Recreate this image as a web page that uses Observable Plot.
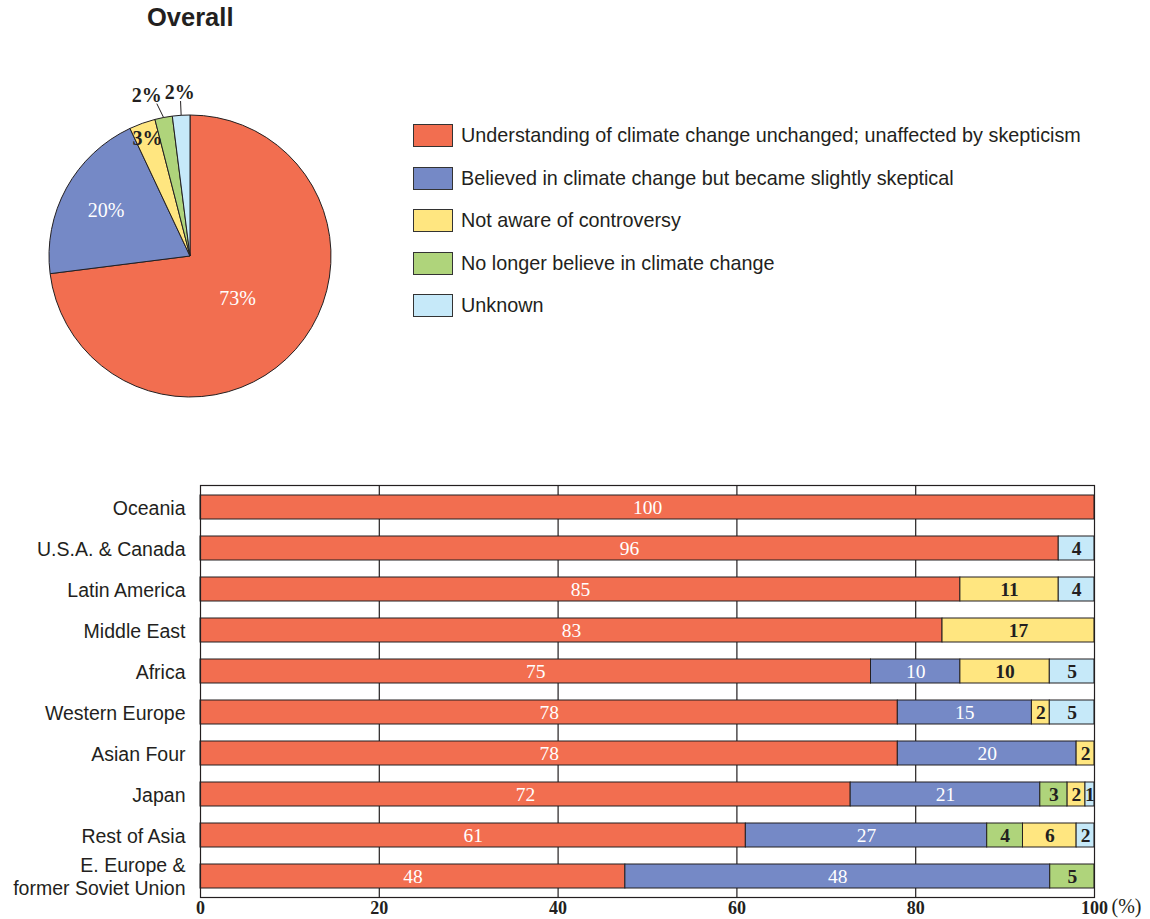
<!DOCTYPE html>
<html>
<head>
<meta charset="utf-8">
<script src="https://cdn.jsdelivr.net/npm/d3@7"></script>
<script src="https://cdn.jsdelivr.net/npm/@observablehq/plot@0.6"></script>
<style>
  body { margin: 0; background: #fff; }
  #page { position: relative; width: 1150px; height: 919px; overflow: hidden;
          font-family: "Liberation Sans", Arial, sans-serif; color: #231f20; }
  #title { position: absolute; left: 147px; top: 3px; font-weight: bold; font-size: 25.5px; }
  #pie { position: absolute; left: 0; top: 76px; }
  #legend { position: absolute; left: 413px; top: 124px; }
  .item { display: flex; align-items: center; height: 23px; margin-bottom: 19.5px; font-size: 19.8px; }
  .sw { box-sizing: border-box; width: 40px; height: 23px; border: 1px solid #333; margin-right: 8px; }
  #bars { position: absolute; left: 0; top: 460px; }
</style>
</head>
<body>
<div id="page">
  <div id="title">Overall</div>
  <div id="pie"></div>
  <div id="legend"></div>
  <div id="bars"></div>
</div>
<script>
// Response categories (legend order) and their colours
const categories = [
  "Understanding of climate change unchanged; unaffected by skepticism",
  "Believed in climate change but became slightly skeptical",
  "Not aware of controversy",
  "No longer believe in climate change",
  "Unknown"
];
const colors = ["#f26e50", "#7589c6", "#ffe680", "#afd47b", "#c6e9f9"];

// Overall shares (%), same order as categories
const overall = [73, 20, 3, 2, 2];

// Regions, top to bottom
const regions = [
  "Oceania", "U.S.A. & Canada", "Latin America", "Middle East", "Africa",
  "Western Europe", "Asian Four", "Japan", "Rest of Asia",
  "E. Europe & former Soviet Union"
];
const regionLabels = [
  "Oceania", "U.S.A. & Canada", "Latin America", "Middle East", "Africa",
  "Western Europe", "Asian Four", "Japan", "Rest of Asia",
  "E. Europe &\nformer Soviet Union"
];

// Shares by region (%), one array per category
const unchanged = [100, 96, 85, 83, 75, 78, 78, 72, 61, 48];
const slightly  = [0, 0, 0, 0, 10, 15, 20, 21, 27, 48];
const notAware  = [0, 0, 11, 17, 10, 2, 2, 2, 6, 0];
const noLonger  = [0, 0, 0, 0, 0, 0, 0, 3, 4, 5];
const unknown   = [0, 4, 4, 0, 5, 5, 0, 1, 2, 0];

const xTicks = [0, 20, 40, 60, 80, 100];
const gridTicks = [20, 40, 60, 80];

const ink = "#231f20";
const serif = "'Liberation Serif', 'Times New Roman', serif";
const sans = "'Liberation Sans', Arial, sans-serif";

// Segments stack left to right in this order
const stackOrder = [categories[0], categories[1], categories[3], categories[2], categories[4]];
const lightText = [categories[0], categories[1]];

// Long-format table for the stacked bars (zero shares omitted)
const seriesByCat = [unchanged, slightly, notAware, noLonger, unknown];
const table = [];
regions.forEach((region, i) => {
  categories.forEach((cat, j) => {
    const value = seriesByCat[j][i];
    if (value > 0) table.push({region, cat, value});
  });
});

// ---- Legend ----
const legend = document.getElementById("legend");
categories.forEach((cat, i) => {
  const item = document.createElement("div");
  item.className = "item";
  const sw = document.createElement("div");
  sw.className = "sw";
  sw.style.background = colors[i];
  const label = document.createElement("span");
  label.textContent = cat;
  item.append(sw, label);
  legend.append(item);
});

// ---- Pie of overall shares ----
const pieData = categories.map((cat, i) => ({cat, value: overall[i]}));
const R = 141;

function pieMark(index, scales, values, dimensions) {
  const color = scales.color ?? d3.scaleOrdinal(categories, colors);
  const cx = dimensions.width / 2, cy = dimensions.height / 2;
  const arcs = d3.pie().sort(null).value(d => d.value)(pieData);
  const arc = d3.arc().innerRadius(0).outerRadius(R);
  const g = d3.create("svg:g").attr("transform", `translate(${cx},${cy})`);
  g.selectAll("path").data(arcs).join("path")
    .attr("d", arc)
    .attr("fill", d => color(d.data.cat))
    .attr("stroke", ink)
    .attr("stroke-width", 1);
  const polar = (a, r) => [Math.sin(a) * r, -Math.cos(a) * r];

  // Label placement: inside for larger slices, outside with a leader for thin ones
  const labels = arcs.map(d => {
    const mid = (d.startAngle + d.endAngle) / 2;
    const v = d.data.value;
    let r, fill, outside = false;
    if (v >= 10) { r = v > 50 ? 0.45 * R : 0.68 * R; fill = "#fff"; }
    else if (v >= 3) { r = 0.89 * R; fill = ink; }
    else { r = 1.165 * R; fill = ink; outside = true; }
    const [x, y] = polar(mid, r);
    return {v, mid, x, y, fill, outside};
  });
  // Push neighbouring outside labels apart so they don't collide
  const outs = labels.filter(l => l.outside);
  for (let i = outs.length - 2; i >= 0; i--) {
    const gap = 33;
    if (outs[i + 1].x - outs[i].x < gap) outs[i].x = outs[i + 1].x - gap;
  }
  for (const l of labels) {
    if (l.outside) {
      const [ax, ay] = polar(l.mid, R);
      g.append("line")
        .attr("x1", ax).attr("y1", ay)
        .attr("x2", l.x + (ax - l.x) * 0.6).attr("y2", l.y + 9)
        .attr("stroke", ink).attr("stroke-width", 1);
    }
    g.append("text").attr("x", l.x).attr("y", l.y)
      .attr("text-anchor", "middle").attr("dy", "0.35em")
      .attr("font-family", serif).attr("font-size", 20)
      .attr("font-weight", l.fill === ink ? "bold" : "normal")
      .attr("fill", l.fill)
      .text(`${l.v}%`);
  }
  return g.node();
}

const pie = Plot.plot({
  width: 380,
  height: 360,
  margin: 0,
  x: {axis: null},
  y: {axis: null},
  color: {domain: categories, range: colors},
  style: {overflow: "visible", background: "transparent"},
  marks: [pieMark]
});
document.getElementById("pie").append(pie);

// ---- Stacked bars by region ----
const stackOpts = {x: "value", y: "region", z: "cat", order: stackOrder, offset: "normalize"};

const bars = Plot.plot({
  width: 1150,
  height: 459,
  marginLeft: 200,
  marginRight: 56,
  marginTop: 25,
  marginBottom: 22,
  x: {domain: [0, 1], axis: null},
  y: {domain: regions, axis: null, paddingInner: 0.42, paddingOuter: 0.22},
  color: {domain: categories, range: colors},
  style: {overflow: "visible", background: "transparent", color: ink},
  marks: [
    Plot.ruleX(gridTicks, {x: d => d / 100, stroke: ink, strokeWidth: 1.2}),
    Plot.barX(table, Plot.stackX({...stackOpts, fill: "cat", stroke: ink, strokeWidth: 1})),
    Plot.text(table, Plot.stackX({
      ...stackOpts,
      text: d => lightText.includes(d.cat) ? String(d.value) : "",
      fill: "#fff", fontFamily: serif, fontSize: 19.5
    })),
    Plot.text(table, Plot.stackX({
      ...stackOpts,
      text: d => lightText.includes(d.cat) ? "" : String(d.value),
      fill: ink, fontFamily: serif, fontSize: 19.5, fontWeight: "bold"
    })),
    Plot.text(regions, {
      y: d => d, frameAnchor: "left", dx: -15, textAnchor: "end",
      text: (d, i) => regionLabels[i], fontFamily: sans, fontSize: 19.5,
      lineHeight: 1.15, fill: ink
    }),
    Plot.text(xTicks, {
      x: d => d / 100, frameAnchor: "bottom", dy: 16, text: d => String(d),
      fontFamily: serif, fontSize: 18, fontWeight: "bold", fill: ink
    }),
    Plot.text(["(%)"], {
      x: 1, frameAnchor: "bottom", dx: 17, dy: 15, textAnchor: "start",
      fontFamily: serif, fontSize: 20, fill: ink
    }),
    Plot.frame({stroke: ink, strokeWidth: 1.2})
  ]
});
document.getElementById("bars").append(bars);
</script>
</body>
</html>
